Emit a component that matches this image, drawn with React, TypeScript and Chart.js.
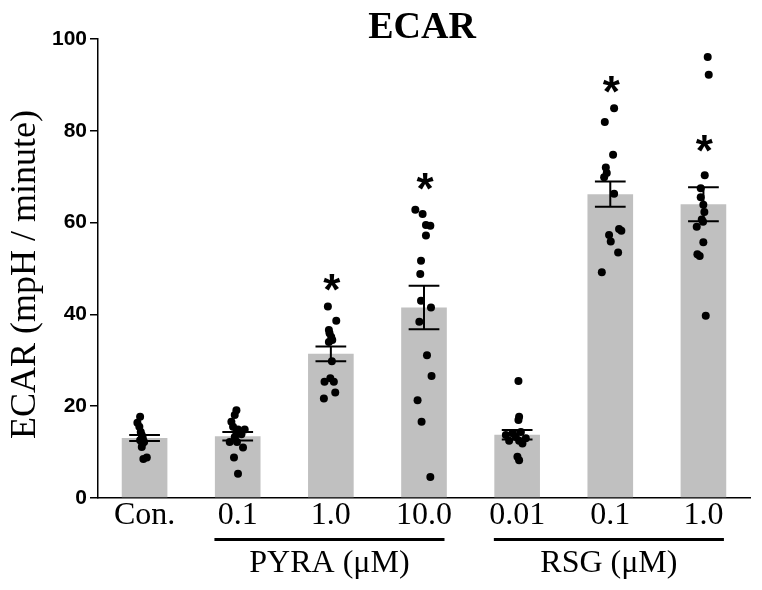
import React, { useEffect, useRef } from "react";
import { Chart, registerables } from "chart.js";

Chart.register(...registerables);

const chartTitle = "ECAR";
const yAxisTitle = "ECAR (mpH / minute)";
const categories = ["Con.", "0.1", "1.0", "10.0", "0.01", "0.1", "1.0"];
const means = [13.05, 13.45, 31.4, 41.5, 13.8, 66.2, 64.0];
const sems = [0.65, 0.93, 1.58, 4.75, 1.03, 2.75, 3.7];
const asterisks: (number | null)[] = [null, null, 46.9, 68.9, null, 90.0, 77.2];
const groupLabels = ["PYRA (\u03bcM)", "RSG (\u03bcM)"];
const groupFirst = [1, 4];
const groupLast = [3, 6];
const yMin = 0;
const yMax = 100;
const yStep = 20;

const conValues = [17.7, 16.4, 15.5, 14.4, 13.7, 13.0, 12.6, 12.2, 11.9, 11.1, 8.8, 8.5];
const conJitter = [-0.048, -0.077, -0.056, -0.041, -0.03, -0.019, -0.048, -0.005, -0.024, -0.03, 0.024, -0.013];
const pyra01Values = [19.1, 18.1, 16.6, 15.5, 14.9, 14.9, 14.4, 13.9, 13.3, 12.2, 12.2, 11.0, 8.8, 5.3];
const pyra01Jitter = [-0.014, -0.032, -0.068, -0.05, 0.003, 0.075, -0.014, 0.04, -0.032, -0.086, -0.008, 0.057, -0.04, 0.003];
const pyra1Values = [41.7, 38.6, 36.6, 35.9, 35.1, 34.4, 34.0, 29.8, 25.3, 26.1, 25.3, 23.0, 21.7];
const pyra1Jitter = [-0.032, 0.058, -0.021, -0.014, 0.004, 0.015, -0.021, 0.011, -0.068, -0.006, 0.032, 0.047, -0.075];
const pyra10Values = [62.8, 61.9, 59.5, 59.3, 57.2, 51.7, 48.8, 43.0, 41.5, 38.4, 31.1, 26.6, 21.3, 16.6, 4.6];
const pyra10Jitter = [-0.093, -0.015, 0.021, 0.068, 0.021, -0.032, -0.04, -0.032, 0.075, -0.05, 0.032, 0.081, -0.069, -0.026, 0.068];
const rsg001Values = [25.5, 17.7, 17.0, 14.4, 13.7, 14.1, 13.3, 12.5, 13.0, 12.5, 11.9, 9.0, 8.2];
const rsg001Jitter = [0.014, 0.021, 0.014, 0.04, -0.121, -0.05, -0.014, -0.086, 0.093, 0.021, 0.057, 0.003, 0.021];
const rsg01Values = [84.9, 81.9, 74.8, 72.0, 70.8, 69.9, 66.3, 58.6, 58.2, 57.3, 55.9, 53.5, 49.2];
const rsg01Jitter = [0.041, -0.059, 0.03, -0.048, -0.038, -0.066, 0.041, 0.094, 0.119, -0.013, 0.005, 0.084, -0.091];
const rsg1Values = [96.1, 92.2, 70.3, 67.5, 65.5, 63.9, 62.3, 60.7, 60.2, 59.1, 55.7, 53.1, 52.7, 39.7];
const rsg1Jitter = [0.046, 0.057, 0.014, -0.029, -0.029, -0.001, 0.01, -0.018, -0.004, -0.072, -0.001, -0.065, -0.04, 0.025];

const groupValues = [conValues, pyra01Values, pyra1Values, pyra10Values, rsg001Values, rsg01Values, rsg1Values];
const groupJitter = [conJitter, pyra01Jitter, pyra1Jitter, pyra10Jitter, rsg001Jitter, rsg01Jitter, rsg1Jitter];

const SERIF = "'Liberation Serif', 'Times New Roman', serif";
const SANS = "'Liberation Sans', Arial, sans-serif";

export default function App() {
  const ref = useRef<HTMLCanvasElement | null>(null);

  useEffect(() => {
    if (!ref.current) return;
    const points: { x: number; y: number }[] = [];
    groupValues.forEach((vals, i) => {
      vals.forEach((v, j) => points.push({ x: i + groupJitter[i][j], y: v }));
    });

    const errorBars = {
      id: "errorBars",
      afterDatasetDraw(chart: any, args: any) {
        if (args.index !== 0) return;
        const { ctx, scales } = chart;
        const xs = scales.x;
        const ys = scales.y;
        const cw = xs.width / categories.length;
        ctx.save();
        ctx.strokeStyle = "#000";
        ctx.lineWidth = 2;
        means.forEach((m, i) => {
          const x = xs.getPixelForValue(i);
          const yt = ys.getPixelForValue(m + sems[i]);
          const yb = ys.getPixelForValue(m - sems[i]);
          const hw = cw * 0.165;
          ctx.beginPath();
          ctx.moveTo(x, yt);
          ctx.lineTo(x, yb);
          ctx.moveTo(x - hw, yt);
          ctx.lineTo(x + hw, yt);
          ctx.moveTo(x - hw, yb);
          ctx.lineTo(x + hw, yb);
          ctx.stroke();
        });
        ctx.restore();
      },
    };

    const annotations = {
      id: "annotations",
      afterDraw(chart: any) {
        const { ctx, scales, chartArea } = chart;
        const xs = scales.x;
        const ys = scales.y;
        const cw = xs.width / categories.length;
        ctx.save();
        ctx.fillStyle = "#000";
        // title
        ctx.font = `bold 38px ${SERIF}`;
        ctx.textAlign = "center";
        ctx.textBaseline = "alphabetic";
        ctx.fillText(chartTitle, (chartArea.left + chartArea.right) / 2 - 2, 30);
        // y-axis title
        ctx.save();
        ctx.font = `36px ${SERIF}`;
        ctx.textBaseline = "middle";
        ctx.translate(18, (chartArea.top + chartArea.bottom) / 2 + 6);
        ctx.rotate(-Math.PI / 2);
        ctx.fillText(yAxisTitle, 0, 0);
        ctx.restore();
        // asterisks
        ctx.font = `bold 44px ${SANS}`;
        asterisks.forEach((a, i) => {
          if (a === null) return;
          const m = ctx.measureText("*");
          const cy = ys.getPixelForValue(a);
          const y = cy - (m.actualBoundingBoxDescent - m.actualBoundingBoxAscent) / 2;
          ctx.fillText("*", xs.getPixelForValue(i) + 1, y);
        });
        // group underlines and labels
        ctx.strokeStyle = "#000";
        ctx.lineWidth = 3;
        ctx.font = `32px ${SERIF}`;
        groupLabels.forEach((g, k) => {
          const x1 = xs.getPixelForValue(groupFirst[k]) - cw * 0.25;
          const x2 = xs.getPixelForValue(groupLast[k]) + cw * 0.22;
          const ly = chartArea.bottom + 41.5;
          ctx.beginPath();
          ctx.moveTo(x1, ly);
          ctx.lineTo(x2, ly);
          ctx.stroke();
          ctx.fillText(g, (x1 + x2) / 2, chartArea.bottom + 74);
        });
        ctx.restore();
      },
    };

    const chart = new Chart(ref.current, {
      type: "bar",
      data: {
        labels: categories,
        datasets: [
          {
            type: "bar",
            data: means,
            backgroundColor: "#c0c0c0",
            borderWidth: 0,
            barPercentage: 0.49,
            categoryPercentage: 1,
            grouped: false,
            order: 2,
          } as any,
          {
            type: "scatter",
            data: points,
            xAxisID: "xj",
            yAxisID: "y",
            backgroundColor: "#000",
            borderColor: "#000",
            borderWidth: 0,
            pointRadius: 4,
            showLine: false,
            order: 1,
          } as any,
        ],
      },
      options: {
        animation: false,
        responsive: false,
        layout: { padding: { top: 31, right: 3, left: 0, bottom: 0 } },
        plugins: {
          legend: { display: false },
          tooltip: { enabled: false },
          title: { display: false },
        },
        scales: {
          x: {
            type: "category",
            offset: true,
            grid: { display: true, drawOnChartArea: false, drawTicks: false },
            border: { display: true, color: "#000", width: 1.5 },
            ticks: {
              color: "#000",
              font: { family: SERIF, size: 32, lineHeight: 1 },
              padding: 2,
              maxRotation: 0,
              autoSkip: false,
            },
            afterFit: (s: any) => {
              s.height = 84;
            },
          },
          xj: {
            type: "linear",
            display: false,
            offset: false,
            grid: { offset: false },
            min: -0.5,
            max: categories.length - 0.5,
          },
          y: {
            type: "linear",
            min: yMin,
            max: yMax,
            ticks: {
              stepSize: yStep,
              color: "#000",
              font: { family: SANS, size: 21, weight: "bold" },
              padding: 3,
            },
            grid: {
              drawOnChartArea: false,
              drawTicks: true,
              tickLength: 8,
              color: "#000",
              lineWidth: 1.5,
            },
            border: { display: true, color: "#000", width: 1.5 },
            title: { display: false },
            afterFit: (s: any) => {
              s.width = 90;
            },
          },
        },
      } as any,
      plugins: [errorBars, annotations],
    });
    return () => chart.destroy();
  }, []);

  return (
    <div style={{ width: 746, height: 574 }}>
      <canvas ref={ref} width={746} height={574} style={{ display: "block" }} />
    </div>
  );
}
